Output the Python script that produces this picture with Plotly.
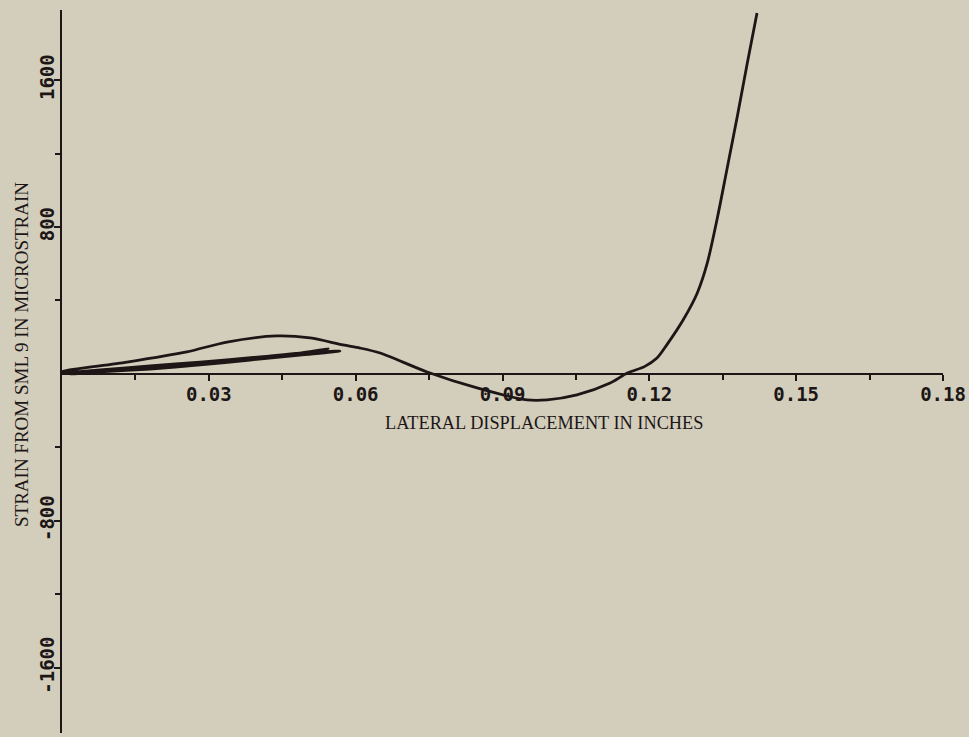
import plotly.graph_objects as go

# Lateral displacement (inches) and strain (microstrain), in recorded order
disp = [0.0, 0.0078, 0.0180, 0.0282, 0.0405, 0.0486, 0.0568,
        0.0486, 0.0384, 0.0282, 0.0180, 0.0078, 0.0016,
        0.0180, 0.0384, 0.0486, 0.0544,
        0.0446, 0.0282, 0.0139, 0.0,
        0.0133, 0.0255, 0.0337, 0.0439, 0.0507, 0.0574, 0.0609, 0.065,
        0.0746, 0.0848, 0.095, 0.0991, 0.1052, 0.112, 0.1155, 0.1190,
        0.1215, 0.1236, 0.1269, 0.1298, 0.1318, 0.1339, 0.1359,
        0.1380, 0.1400, 0.1420]
strain = [5, 22, 44, 65, 93, 114, 125,
          103, 76, 49, 27, 11, 0,
          38, 87, 114, 136,
          98, 55, 24, 14,
          65, 120, 174, 207, 196, 158, 141, 114,
          11, -76, -141, -141, -114, -49, 5, 40,
          85, 160, 294, 441, 600, 850, 1120,
          1405, 1690, 1965]

x_tickvals = [0.03, 0.06, 0.09, 0.12, 0.15, 0.18]
x_ticktext = ["0.03", "0.06", "0.09", "0.12", "0.15", "0.18"]
x_minor = [0.015, 0.045, 0.075, 0.105, 0.135, 0.165]
y_tickvals = [-1600, -800, 800, 1600]
y_ticktext = ["-1600", "-800", "800", "1600"]
y_minor = [-1200, -400, 400, 1200]

bg = "#d3cdbc"
ink = "#1c1616"
title_font = "Liberation Serif, serif"

W, H = 969, 737
ML, MR, MT, MB = 62, 26, 10, 4
PW, PH = W - ML - MR, H - MT - MB

fig = go.Figure()
fig.add_trace(go.Scatter(x=disp, y=strain, mode="lines",
                         line=dict(color=ink, width=2.8, shape="spline", smoothing=0.8),
                         showlegend=False, hoverinfo="skip"))

fig.update_layout(
    width=W, height=H,
    margin=dict(l=ML, r=MR, t=MT, b=MB),
    paper_bgcolor=bg, plot_bgcolor=bg,
    showlegend=False,
    xaxis=dict(range=[0, 0.18], anchor="free", position=(1954 / 3935),
               showline=True, linecolor=ink, linewidth=2,
               showgrid=False, zeroline=False,
               ticks="outside", ticklen=6, tickwidth=2, tickcolor=ink,
               tickvals=x_tickvals, ticktext=x_ticktext, ticklabelstandoff=-3,
               minor=dict(tickvals=x_minor, ticks="outside", ticklen=5,
                          tickwidth=2, tickcolor=ink),
               tickfont=dict(family="DejaVu Sans Mono", size=19, color=ink, weight="bold")),
    yaxis=dict(range=[-1954, 1981],
               showline=True, linecolor=ink, linewidth=2,
               showgrid=False, zeroline=False,
               ticks="outside", ticklen=6, tickwidth=2, tickcolor=ink,
               tickvals=y_tickvals, ticktext=y_ticktext, tickangle=-90,
               ticklabelstandoff=-8,
               minor=dict(tickvals=y_minor, ticks="outside", ticklen=5,
                          tickwidth=2, tickcolor=ink),
               tickfont=dict(family="DejaVu Sans Mono", size=19, color=ink, weight="bold")),
    annotations=[
        dict(text="LATERAL DISPLACEMENT IN INCHES", xref="paper", yref="paper",
             x=(544 - ML) / PW, y=(H - MB - 423) / PH,
             xanchor="center", yanchor="middle", showarrow=False,
             font=dict(family=title_font, size=18.3, color=ink)),
        dict(text="STRAIN FROM SML 9 IN MICROSTRAIN", xref="paper", yref="paper",
             x=(21 - ML) / PW, y=(H - MB - 355) / PH,
             xanchor="center", yanchor="middle", textangle=-90, showarrow=False,
             font=dict(family=title_font, size=19, color=ink)),
    ],
)

fig.write_html("out.html",
               config={"displayModeBar": False},
               post_script="document.body.style.margin='0';"
                           "document.body.style.background='#d3cdbc';")
